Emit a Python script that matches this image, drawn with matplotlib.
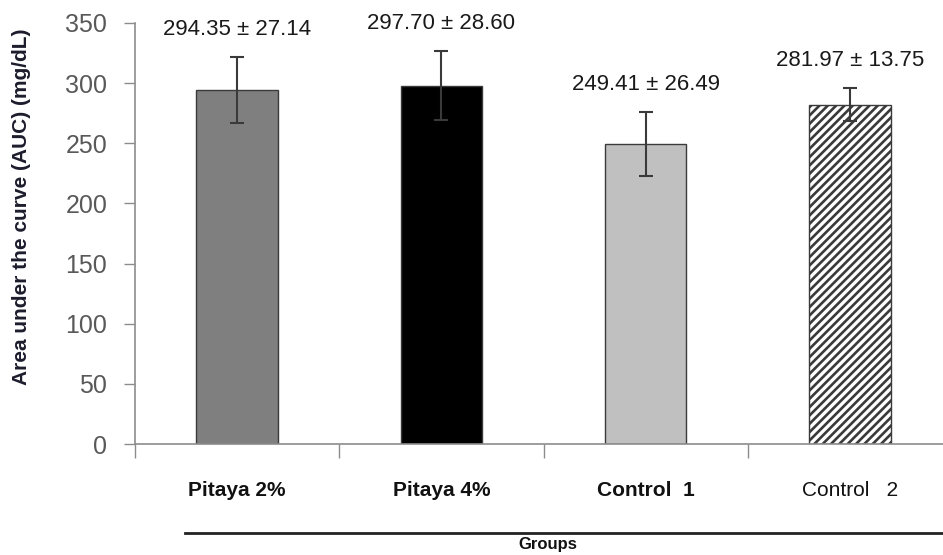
import numpy as np
import matplotlib
matplotlib.use('Agg')
import matplotlib.pyplot as plt
from matplotlib.lines import Line2D
from matplotlib.transforms import blended_transform_factory

plt.rcParams['font.family'] = ['Liberation Sans', 'DejaVu Sans']
plt.rcParams['hatch.linewidth'] = 1.9

# group means and standard deviations (AUC, mg/dL)
groups = ['Pitaya 2%', 'Pitaya 4%', 'Control  1', 'Control   2']
means = [294.35, 297.70, 249.41, 281.97]
sds = [27.14, 28.60, 26.49, 13.75]
yticks = [0, 50, 100, 150, 200, 250, 300, 350]

colors = ['#7f7f7f', '#000000', '#c0c0c0', '#ffffff']
hatches = ['', '', '', '////']
label_weights = ['bold', 'bold', 'bold', 'normal']

fig = plt.figure(figsize=(9.43, 5.55), dpi=100)
ax = fig.add_axes([0.1432, 0.2, 0.862, 0.7586])

x = np.arange(len(groups))
bars = ax.bar(x, means, width=0.4, color=colors, edgecolor='#3a3a3a',
              linewidth=1.0, zorder=2)
for b, h in zip(bars, hatches):
    b.set_hatch(h)
ax.errorbar(x, means, yerr=sds, fmt='none', ecolor='#3a3a3a',
            elinewidth=1.5, capsize=5, capthick=1.5, zorder=3)

# mean ± sd labels above each error bar
for xi, m, s in zip(x, means, sds):
    ax.text(xi, m + s + 23, f'{m:.2f} \u00b1 {s:.2f}', ha='center',
            va='center', fontsize=16, color='#1a1a1a')

ax.set_xlim(-0.5, 3.48)
ax.set_ylim(0, 350)
ax.set_yticks(yticks)
ax.tick_params(axis='y', length=8, width=1, color='#8c8c8c',
               labelsize=18, labelcolor='#595959', pad=12)
ax.set_xticks(np.arange(-0.5, 3.0, 1.0))
ax.set_xticklabels([])
ax.tick_params(axis='x', length=10, width=1, color='#8c8c8c')

for side in ['top', 'right']:
    ax.spines[side].set_visible(False)
for side in ['left', 'bottom']:
    ax.spines[side].set_color('#8c8c8c')
    ax.spines[side].set_linewidth(1.2)

trans = blended_transform_factory(ax.transData, ax.transAxes)
for xi, g, w in zip(x, groups, label_weights):
    ax.text(xi, -0.11, g, transform=trans, ha='center', va='center',
            fontsize=15, fontweight=w, color='#111111')

ax.set_ylabel('Area under the curve (AUC) (mg/dL)', fontsize=15,
              fontweight='bold', color='#1c1c2c')
ax.yaxis.set_label_coords(-0.128, 0.563)

# line over the "Groups" caption
fig.add_artist(Line2D([185 / 943, 1.0], [1 - 533 / 555, 1 - 533 / 555],
                      color='#222222', linewidth=2))
fig.text(548 / 943, 1 - 545 / 555, 'Groups', ha='center', va='center',
         fontsize=12, fontweight='bold', color='#111111')

fig.savefig('out.png', dpi=100)
